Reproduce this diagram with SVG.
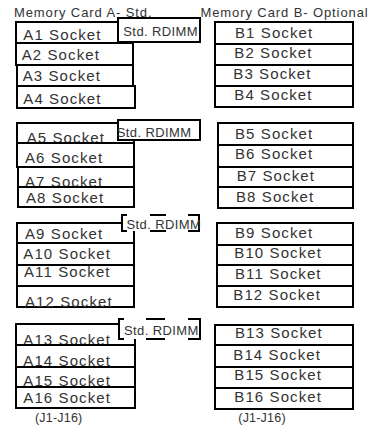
<svg xmlns="http://www.w3.org/2000/svg" width="374" height="427" viewBox="0 0 374 427">
<style>
.bg{fill:#fff}
.box{fill:none;stroke:#000;stroke-width:2}
.rd{fill:#fff;stroke:#000;stroke-width:2}
.dash{fill:none;stroke:#000;stroke-width:2}
text{font-family:"Liberation Sans",Arial,sans-serif;fill:#333}
.s{font-size:15px;letter-spacing:1.1px}
.t{font-size:13px;letter-spacing:0.9px}
.r{font-size:13px;letter-spacing:0.4px}
.j{font-size:12.5px;letter-spacing:0.2px}
</style>
<rect class="bg" x="0" y="0" width="374" height="427"/>
<g id="titles">
<text class="t" x="14" y="16.5">Memory Card A- Std.</text>
<text class="t" x="200.5" y="16.5">Memory Card B- Optional</text>
</g>
<g id="cardA">
<g id="A1"><rect class="box" x="16" y="22" width="117" height="21"/><text class="s" x="23.3" y="39.5">A1 Socket</text></g>
<g id="A2"><rect class="box" x="16" y="43" width="117" height="22"/><text class="s" x="21.7" y="60">A2 Socket</text></g>
<g id="A3"><rect class="box" x="17" y="65" width="116" height="21"/><text class="s" x="22.7" y="80.5">A3 Socket</text></g>
<g id="A4"><rect class="box" x="17" y="86" width="118" height="22"/><text class="s" x="23.3" y="104">A4 Socket</text></g>
<g id="A5"><rect class="box" x="17" y="123" width="117" height="20"/><text class="s" x="26.7" y="143">A5 Socket</text></g>
<g id="A6"><rect class="box" x="17" y="143" width="117" height="24"/><text class="s" x="25" y="163">A6 Socket</text></g>
<g id="A7"><rect class="box" x="18" y="167" width="116" height="20"/><text class="s" x="25" y="186.5">A7 Socket</text></g>
<g id="A8"><rect class="box" x="18" y="187" width="116" height="20"/><text class="s" x="26" y="203">A8 Socket</text></g>
<g id="A9"><rect class="box" x="17" y="223" width="117" height="20"/><text class="s" x="25" y="238.5">A9 Socket</text></g>
<g id="A10"><rect class="box" x="17" y="243" width="117" height="22"/><text class="s" x="23.3" y="258.5">A10 Socket</text></g>
<g id="A11"><rect class="box" x="17" y="265" width="117" height="21"/><text class="s" x="24" y="277">A11 Socket</text></g>
<g id="A12"><rect class="box" x="17" y="286" width="117" height="21"/><text class="s" x="25" y="306.5">A12 Socket</text></g>
<g id="A13"><rect class="box" x="16" y="324" width="119" height="21"/><text class="s" x="23.3" y="345">A13 Socket</text></g>
<g id="A14"><rect class="box" x="16" y="345" width="119" height="22"/><text class="s" x="23.3" y="366">A14 Socket</text></g>
<g id="A15"><rect class="box" x="16" y="367" width="119" height="20"/><text class="s" x="23.3" y="386">A15 Socket</text></g>
<g id="A16"><rect class="box" x="16" y="387" width="119" height="21"/><text class="s" x="23.3" y="403">A16 Socket</text></g>
<text class="j" x="35" y="421.7">(J1-J16)</text>
</g>
<g id="cardB">
<g id="B1"><rect class="box" x="215" y="22" width="138" height="22"/><text class="s" x="235" y="37.5">B1 Socket</text></g>
<g id="B2"><rect class="box" x="215" y="44" width="138" height="21"/><text class="s" x="234.3" y="58">B2 Socket</text></g>
<g id="B3"><rect class="box" x="215" y="65" width="138" height="21"/><text class="s" x="233.3" y="79">B3 Socket</text></g>
<g id="B4"><rect class="box" x="215" y="86" width="138" height="21"/><text class="s" x="234.3" y="99.5">B4 Socket</text></g>
<g id="B5"><rect class="box" x="218" y="123" width="135" height="22"/><text class="s" x="235" y="138.5">B5 Socket</text></g>
<g id="B6"><rect class="box" x="218" y="145" width="135" height="22"/><text class="s" x="235" y="158.5">B6 Socket</text></g>
<g id="B7"><rect class="box" x="218" y="167" width="135" height="20"/><text class="s" x="236.7" y="180.7">B7 Socket</text></g>
<g id="B8"><rect class="box" x="218" y="187" width="135" height="21"/><text class="s" x="236" y="201.7">B8 Socket</text></g>
<g id="B9"><rect class="box" x="217" y="223" width="136" height="22"/><text class="s" x="235" y="237.5">B9 Socket</text></g>
<g id="B10"><rect class="box" x="217" y="245" width="136" height="20"/><text class="s" x="234.3" y="257.5">B10 Socket</text></g>
<g id="B11"><rect class="box" x="217" y="265" width="136" height="21"/><text class="s" x="235" y="278.5">B11 Socket</text></g>
<g id="B12"><rect class="box" x="217" y="286" width="136" height="21"/><text class="s" x="233.3" y="299.5">B12 Socket</text></g>
<g id="B13"><rect class="box" x="215" y="325" width="138" height="20"/><text class="s" x="235" y="337.5">B13 Socket</text></g>
<g id="B14"><rect class="box" x="215" y="345" width="138" height="22"/><text class="s" x="233.3" y="360">B14 Socket</text></g>
<g id="B15"><rect class="box" x="215" y="367" width="138" height="21"/><text class="s" x="234.3" y="380">B15 Socket</text></g>
<g id="B16"><rect class="box" x="215" y="388" width="138" height="21"/><text class="s" x="234.3" y="402">B16 Socket</text></g>
<text class="j" x="238.3" y="421.7">(J1-J16)</text>
</g>
<g id="rdimm1"><rect class="rd" x="118" y="18" width="82" height="24"/><text class="r" x="123.3" y="36">Std. RDIMM</text></g>
<g id="rdimm2"><rect class="rd" x="118" y="120" width="82" height="20"/><text class="r" x="116.7" y="137">Std. RDIMM</text></g>
<g id="rdimm3"><rect class="bg" x="122" y="215" width="77" height="16"/><path class="dash" d="M127,215 H122 V231 H127 M150,215 H166 M150,231 H166 M188,215 H199 V231 H188"/><text class="r" x="126.5" y="228.5">Std. RDIMM</text></g>
<g id="rdimm4"><rect class="bg" x="119" y="319" width="81" height="20"/><path class="dash" d="M124,319 H119 V339 H124 M146,319 H165 M146,339 H165 M188,319 H200 V339 H188"/><text class="r" x="124" y="335">Std. RDIMM</text></g>
<g id="connectors"/>
</svg>
